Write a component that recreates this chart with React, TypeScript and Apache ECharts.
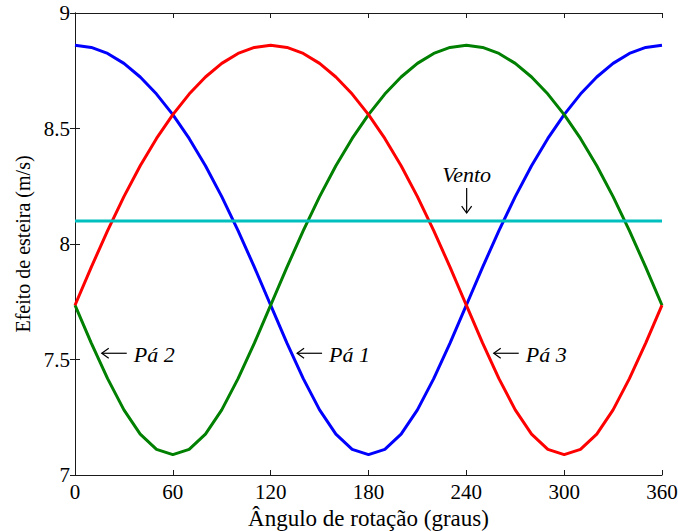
import React, { useEffect, useRef } from "react";
import * as echarts from "echarts";

const angles = [0, 10, 20, 30, 40, 50, 60, 70, 80, 90, 100, 110, 120, 130, 140, 150, 160, 170, 180,
  190, 200, 210, 220, 230, 240, 250, 260, 270, 280, 290, 300, 310, 320, 330, 340, 350, 360];

const pa1 = [8.860, 8.851, 8.825, 8.782, 8.723, 8.649, 8.560, 8.457, 8.339, 8.205, 8.058, 7.900, 7.735,
  7.571, 7.417, 7.282, 7.177, 7.111, 7.088, 7.111, 7.177, 7.282, 7.417, 7.571, 7.735, 7.900, 8.058,
  8.205, 8.339, 8.457, 8.560, 8.649, 8.723, 8.782, 8.825, 8.851, 8.860];

const pa3 = [7.735, 7.900, 8.058, 8.205, 8.339, 8.457, 8.560, 8.649, 8.723, 8.782, 8.825, 8.851, 8.860,
  8.851, 8.825, 8.782, 8.723, 8.649, 8.560, 8.457, 8.339, 8.205, 8.058, 7.900, 7.735, 7.571, 7.417,
  7.282, 7.177, 7.111, 7.088, 7.111, 7.177, 7.282, 7.417, 7.571, 7.735];

const pa2 = [7.735, 7.571, 7.417, 7.282, 7.177, 7.111, 7.088, 7.111, 7.177, 7.282, 7.417, 7.571, 7.735,
  7.900, 8.058, 8.205, 8.339, 8.457, 8.560, 8.649, 8.723, 8.782, 8.825, 8.851, 8.860, 8.851, 8.825,
  8.782, 8.723, 8.649, 8.560, 8.457, 8.339, 8.205, 8.058, 7.900, 7.735];

const ventoAngles = [0, 360];
const vento = [8.1, 8.1];

const xTicks = { min: 0, max: 360, interval: 60 };
const yTicks = { min: 7, max: 9, interval: 0.5 };

// annotation anchors (arrow tips) in data coordinates: [angle, value, label]
const bladeLabels: [number, number, string][] = [
  [16.4, 7.527, "Pá 2"],
  [136.2, 7.527, "Pá 1"],
  [256.8, 7.527, "Pá 3"],
];
const ventoLabel: [number, number, string] = [240.2, 8.134, "Vento"];

const FONT = "Liberation Serif";

function pairs(xs: number[], ys: number[]) {
  return xs.map((x, i) => [x, ys[i]]);
}

export default function App() {
  const ref = useRef<HTMLDivElement>(null);
  useEffect(() => {
    if (!ref.current) return;
    const chart = echarts.init(ref.current, null, { renderer: "svg" });
    const axisLine = { show: true, lineStyle: { color: "#1a1a1a", width: 1 } };
    const tick = { show: true, inside: true, length: 5, lineStyle: { color: "#1a1a1a", width: 1 } };
    const label = { fontFamily: FONT, fontSize: 21, color: "#000" };
    const line = (name: string, data: number[][], color: string) => ({
      name,
      type: "line",
      data,
      xAxisIndex: 0,
      yAxisIndex: 0,
      showSymbol: false,
      symbol: "none",
      lineStyle: { color, width: 3 },
      itemStyle: { color },
      z: 3,
    });
    chart.setOption({
      animation: false,
      grid: { left: 75, right: 16, top: 13, bottom: 56, containLabel: false, outerBoundsMode: "none" },
      xAxis: [
        {
          type: "value",
          ...xTicks,
          position: "bottom",
          axisLine,
          axisTick: tick,
          axisLabel: { ...label, margin: 6 },
          splitLine: { show: false },
          name: "Ângulo de rotação (graus)",
          nameLocation: "middle",
          nameGap: 27,
          nameTextStyle: { fontFamily: FONT, fontSize: 23, color: "#000" },
        },
        {
          type: "value",
          ...xTicks,
          position: "top",
          axisLine,
          axisTick: tick,
          axisLabel: { show: false },
          splitLine: { show: false },
        },
      ],
      yAxis: [
        {
          type: "value",
          ...yTicks,
          position: "left",
          axisLine,
          axisTick: tick,
          axisLabel: { ...label, margin: 5, formatter: (v: number) => String(v) },
          splitLine: { show: false },
          name: "Efeito de esteira (m/s)",
          nameLocation: "middle",
          nameGap: 41,
          nameTextStyle: { fontFamily: FONT, fontSize: 20, color: "#000" },
        },
        {
          type: "value",
          ...yTicks,
          position: "right",
          axisLine,
          axisTick: tick,
          axisLabel: { show: false },
          splitLine: { show: false },
        },
      ],
      series: [
        line("Pá 1", pairs(angles, pa1), "#0000ff"),
        line("Pá 2", pairs(angles, pa2), "#008000"),
        line("Pá 3", pairs(angles, pa3), "#ff0000"),
        line("Vento", pairs(ventoAngles, vento), "#00bfbf"),
      ],
    });

    const arrowStyle = { stroke: "#000", lineWidth: 1.2, fill: "none" };
    const graphics: any[] = [];
    bladeLabels.forEach(([a, v, t]) => {
      const p = chart.convertToPixel({ gridIndex: 0 }, [a, v]) as number[];
      const [x, y] = p;
      graphics.push({
        type: "line",
        shape: { x1: x, y1: y, x2: x + 25, y2: y },
        style: arrowStyle,
        z: 10,
      });
      graphics.push({
        type: "polyline",
        shape: { points: [[x + 7, y - 5], [x, y], [x + 7, y + 5]] },
        style: arrowStyle,
        z: 10,
      });
      graphics.push({
        type: "text",
        x: x + 32,
        y: y + 1,
        style: {
          text: t,
          align: "left",
          verticalAlign: "middle",
          fontFamily: FONT,
          fontSize: 22,
          fontStyle: "italic",
          fill: "#000",
        },
        z: 10,
      });
    });
    {
      const [a, v, t] = ventoLabel;
      const p = chart.convertToPixel({ gridIndex: 0 }, [a, v]) as number[];
      const [x, y] = p;
      graphics.push({
        type: "line",
        shape: { x1: x, y1: y, x2: x, y2: y - 25 },
        style: arrowStyle,
        z: 10,
      });
      graphics.push({
        type: "polyline",
        shape: { points: [[x - 5, y - 7], [x, y], [x + 5, y - 7]] },
        style: arrowStyle,
        z: 10,
      });
      graphics.push({
        type: "text",
        x: x,
        y: y - 28,
        style: {
          text: t,
          align: "center",
          verticalAlign: "bottom",
          fontFamily: FONT,
          fontSize: 22,
          fontStyle: "italic",
          fill: "#000",
        },
        z: 10,
      });
    }
    chart.setOption({ graphic: graphics });

    return () => chart.dispose();
  }, []);
  return <div ref={ref} style={{ width: 678, height: 531, position: "absolute", left: 0, top: 0 }} />;
}
